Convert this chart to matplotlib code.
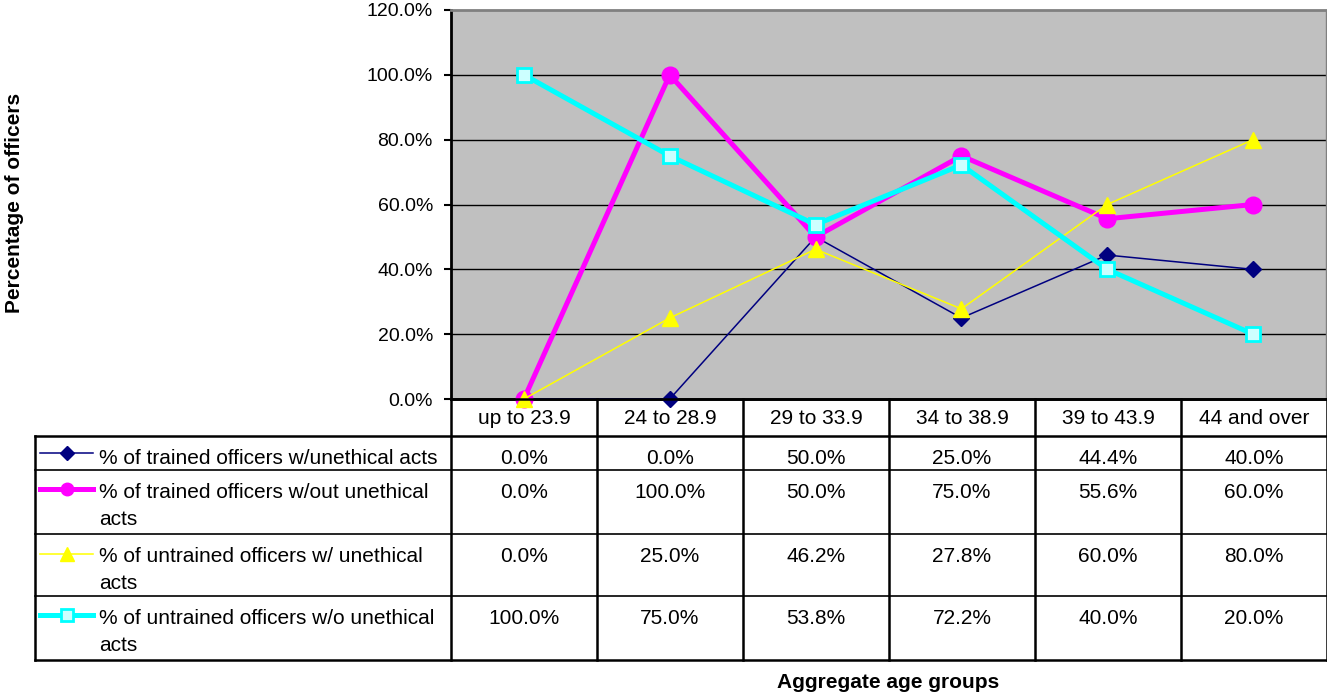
import matplotlib
matplotlib.use("Agg")
import matplotlib.pyplot as plt
from matplotlib.lines import Line2D
from matplotlib.transforms import Bbox
import numpy as np

plt.rcParams['font.family'] = ['Liberation Sans', 'DejaVu Sans']

categories = ["up to 23.9", "24 to 28.9", "29 to 33.9", "34 to 38.9", "39 to 43.9", "44 and over"]
trained_unethical = [0.0, 0.0, 50.0, 25.0, 44.4, 40.0]
trained_no_unethical = [0.0, 100.0, 50.0, 75.0, 55.6, 60.0]
untrained_unethical = [0.0, 25.0, 46.2, 27.8, 60.0, 80.0]
untrained_no_unethical = [100.0, 75.0, 53.8, 72.2, 40.0, 20.0]
series_names = ["% of trained officers w/unethical acts",
                "% of trained officers w/out unethical\nacts",
                "% of untrained officers w/ unethical\nacts",
                "% of untrained officers w/o unethical\nacts"]
y_ticks = [0, 20, 40, 60, 80, 100, 120]

W, H = 1327, 692
fig = plt.figure(figsize=(W / 100, H / 100), dpi=100)

# plot area in pixels
px0, px1, py0, py1 = 451, 1326, 10, 399
ax = fig.add_axes([px0 / W, 1 - py1 / H, (px1 - px0) / W, (py1 - py0) / H])
ax.set_facecolor("#C0C0C0")
ax.set_xlim(-0.5, len(categories) - 0.5)
ax.set_ylim(0, 120)
ax.set_yticks(y_ticks)
ax.set_yticklabels([f"{v:.1f}%" for v in y_ticks], fontsize=14)
ax.set_xticks([])
ax.tick_params(axis="y", direction="out", length=5, width=1.5, pad=8)
for v in y_ticks[1:-1]:
    ax.axhline(v, color="black", lw=1, zorder=1)
ax.spines["left"].set_linewidth(2)
ax.spines["bottom"].set_linewidth(2)
ax.spines["top"].set_color("#808080")
ax.spines["right"].set_color("#808080")
ax.spines["top"].set_linewidth(2)
ax.spines["right"].set_linewidth(1)

styles = [
    dict(color="#000080", lw=1.1, marker="D", ms=8, mfc="#000080", mec="#000080"),
    dict(color="#FF00FF", lw=3.6, marker="o", ms=12, mfc="#FF00FF", mec="#FF00FF"),
    dict(color="#FFFF00", lw=1.1, marker="^", ms=12, mfc="#FFFF00", mec="#FFFF00"),
    dict(color="#00FFFF", lw=3.6, marker="s", ms=10, mfc="#CCFFFF", mec="#00FFFF", mew=2),
]
key_ms = [7, 9, 10, 8]
data = [trained_unethical, trained_no_unethical, untrained_unethical, untrained_no_unethical]
x = np.arange(len(categories))
for i, (vals, st) in enumerate(zip(data, styles)):
    ax.plot(x, vals, clip_on=False, zorder=3 + i, **st)

# overlay for table, in pixel coordinates
ov = fig.add_axes([0, 0, 1, 1], facecolor="none")
ov.set_xlim(0, W)
ov.set_ylim(H, 0)
ov.axis("off")

col_edges = np.linspace(px0, W, len(categories) + 1)
row_edges = [436, 470, 534, 596, 660]
tx0 = 35
lw_t = 1.8
fs = 15

# header cells
ov.plot([px0, W], [399, 399], color="black", lw=lw_t)
for ce in col_edges:
    ov.plot([ce, ce], [399, row_edges[-1]], color="black", lw=lw_t)
for i, c in enumerate(categories):
    ov.text((col_edges[i] + col_edges[i + 1]) / 2, 419, c, ha="center", va="center", fontsize=fs)

# body rows
for r in row_edges:
    ov.plot([tx0, W], [r, r], color="black", lw=lw_t if r in (436, 660) else 1.2)
ov.plot([tx0, tx0], [row_edges[0], row_edges[-1]], color="black", lw=lw_t)

key_y = [453, 489, 554, 615]
txt_y = [459, 493, 557, 619]
for k, (vals, st, name) in enumerate(zip(data, styles, series_names)):
    kst = dict(st)
    kst["ms"] = key_ms[k]
    ov.add_line(Line2D([40, 67, 93], [key_y[k]] * 3, markevery=[1], **kst))
    ov.text(99, txt_y[k] - 10, name, ha="left", va="top", fontsize=fs, linespacing=1.55)
    for i, v in enumerate(vals):
        ov.text((col_edges[i] + col_edges[i + 1]) / 2, txt_y[k], f"{v:.1f}%",
                ha="center", va="center", fontsize=fs)

fig.text(888 / W, 1 - 683 / H, "Aggregate age groups", ha="center", va="center",
         fontsize=fs, fontweight="bold")
ylab = fig.text(15 / W, 1 - 313 / H, "Percentage of officers", ha="center", va="bottom",
                rotation=90, fontsize=fs, fontweight="bold")
ylab.set_clip_box(Bbox.from_extents(0, 0, 60, H - 87))
ylab.set_clip_on(True)

fig.savefig("out.png", dpi=100)
